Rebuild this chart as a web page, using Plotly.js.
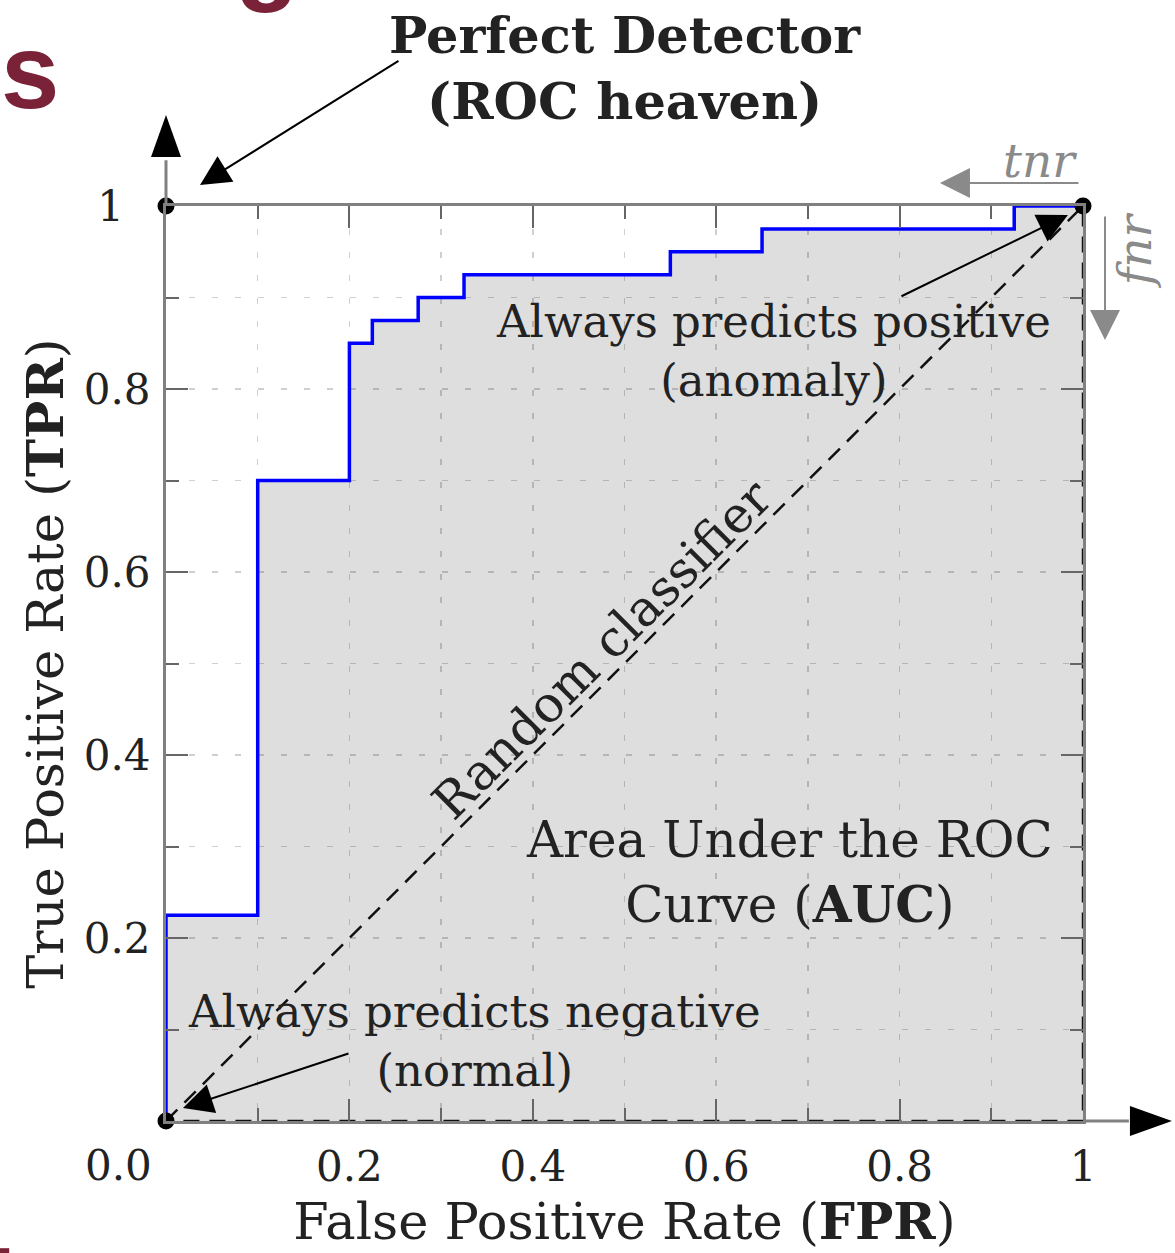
<!DOCTYPE html>
<html>
<head>
<meta charset="utf-8">
<script src="https://cdn.plot.ly/plotly-3.0.1.min.js"></script>
<style>html,body{margin:0;padding:0;background:#fff;}#chart{width:1175px;height:1253px;}</style>
</head>
<body>
<div id="chart"></div>
<script>
// ROC curve (step function)
const fpr = [0, 0, 0.1, 0.2, 0.225, 0.275, 0.325, 0.55, 0.65, 0.925, 1];
const tpr = [0, 0.225, 0.7, 0.85, 0.875, 0.9, 0.925, 0.95, 0.975, 1, 1];
// Random classifier triangle (diagonal, right edge, bottom edge)
const randomX = [0, 1, 1, 0];
const randomY = [0, 1, 0, 0];
// Special points: always negative, perfect detector, always positive
const pointsX = [0, 0, 1];
const pointsY = [0, 1, 1];
// Tick labels
const tickVals = [0.2, 0.4, 0.6, 0.8, 1];
const xTickText = ['0.2', '0.4', '0.6', '0.8', '1'];
const yTickText = ['0.2', '0.4', '0.6', '0.8', '1\u2007'];
const originLabel = '0.0';

const SERIF = 'DejaVu Serif';
const TXT = '#222222';
const GRAYTXT = '#8a8a8a';

const traces = [
  {
    x: fpr, y: tpr, type: 'scatter', mode: 'lines',
    line: {shape: 'hv', color: '#0000ff', width: 3.5},
    fill: 'tozeroy', fillcolor: 'rgba(0,0,0,0.13)',
    hoverinfo: 'skip', cliponaxis: false
  },
  {
    x: randomX, y: randomY, type: 'scatter', mode: 'lines',
    line: {color: '#111', width: 2.5, dash: '16px,10px'},
    hoverinfo: 'skip', cliponaxis: false
  },
  {
    x: pointsX, y: pointsY, type: 'scatter', mode: 'markers',
    marker: {color: '#000', size: 17},
    hoverinfo: 'skip', cliponaxis: false
  }
];

function ax(extra) {
  return Object.assign({
    range: [0, 1], autorange: false, fixedrange: true,
    showline: true, linecolor: '#808080', linewidth: 3, mirror: 'ticks',
    ticks: 'inside', ticklen: 22, tickwidth: 2, tickcolor: '#666',
    tickmode: 'array', tickvals: tickVals,
    showgrid: true, gridcolor: '#d0d0d0', gridwidth: 1.5, griddash: '6px,17px',
    zeroline: false,
    tickfont: {family: SERIF, size: 42, color: TXT},
    minor: {dtick: 0.1, tick0: 0, ticks: 'inside', ticklen: 13, tickwidth: 2, tickcolor: '#666',
            showgrid: true, gridcolor: '#d0d0d0', gridwidth: 1.5, griddash: '6px,17px'}
  }, extra);
}

// arrow-only annotation: head at paper (x, y), tail offset in pixels (axv, ayv)
const arrowA = (x, y, axv, ayv, color) => ({
  x: x, y: y, ax: axv, ay: ayv, xref: 'paper', yref: 'paper',
  text: '', showarrow: true, arrowhead: 2, arrowsize: 3, arrowwidth: 2,
  arrowcolor: color || '#000', standoff: 0, startstandoff: 0
});

const label = (x, y, text, size, color, extra) => Object.assign({
  x: x, y: y, xref: 'paper', yref: 'paper', xanchor: 'center', yanchor: 'middle',
  showarrow: false, text: text, font: {family: SERIF, size: size, color: color || TXT}
}, extra || {});

const annotations = [
  label(0.5005, 1.151, '<b>Perfect Detector</b><br><b>(ROC heaven)</b>', 51),
  arrowA(0.0371, 1.0230, 200, -125),
  label(0.953, 1.050, '<i>tnr</i>', 47, GRAYTXT),
  arrowA(0.8440, 1.0251, 140, 0, '#8a8a8a'),
  label(1.057, 0.952, '<i>fnr</i>', 47, GRAYTXT, {textangle: -90}),
  arrowA(1.0240, 0.8536, 0, -125, '#8a8a8a'),
  label(0.662, 0.842, 'Always predicts positive<br>(anomaly)', 45),
  arrowA(0.9836, 0.9902, -168, 82),
  label(0.475, 0.515, 'Random classifier', 50, TXT, {textangle: -45}),
  label(0.680, 0.272, 'Area Under the ROC<br>Curve (<b>AUC</b>)', 50),
  label(0.336, 0.087, 'Always predicts negative<br>(normal)', 45),
  arrowA(0.0185, 0.0142, 167, -55),
  {x: 0, y: 0, xref: 'paper', yref: 'paper', xanchor: 'center', yanchor: 'middle',
   showarrow: false, xshift: -48, yshift: -44,
   text: originLabel, font: {family: SERIF, size: 42, color: TXT}},
  // partial slide heading letters (cropped in the source image)
  {x: -0.1483, y: 1.147, xref: 'paper', yref: 'paper', xanchor: 'center', yanchor: 'middle',
   showarrow: false, text: '<b>s</b>', font: {family: 'Liberation Sans', size: 105, color: '#7a2238'}},
  {x: 0.11, y: 1.275, xref: 'paper', yref: 'paper', xanchor: 'center', yanchor: 'middle',
   showarrow: false, text: '<b>g</b>', font: {family: 'Liberation Sans', size: 105, color: '#7a2238'}}
];

const shapes = [
  // axis extensions
  {type: 'line', xref: 'paper', yref: 'paper', x0: 0, y0: 1, x1: 0, y1: 1.05,
   line: {color: '#808080', width: 3}},
  {type: 'line', xref: 'paper', yref: 'paper', x0: 1, y0: 0, x1: 1.05, y1: 0,
   line: {color: '#808080', width: 3}},
  // axis arrow heads
  {type: 'path', xref: 'paper', yref: 'paper', xsizemode: 'pixel', ysizemode: 'pixel',
   xanchor: 0, yanchor: 1.0995, path: 'M0,0L-15,-42L15,-42Z',
   fillcolor: '#000', line: {width: 0}},
  {type: 'path', xref: 'paper', yref: 'paper', xsizemode: 'pixel', ysizemode: 'pixel',
   xanchor: 1.097, yanchor: 0, path: 'M0,0L-42,15L-42,-15Z',
   fillcolor: '#000', line: {width: 0}},
  // small cropped slide mark bottom-left
  {type: 'rect', xref: 'paper', yref: 'paper', x0: -0.182, x1: -0.171, y0: -0.139, y1: -0.1455,
   fillcolor: '#7a2238', line: {width: 0}}
];

const layout = {
  width: 1175, height: 1253, autosize: false,
  margin: {l: 166, r: 92, t: 206, b: 132, pad: 0},
  paper_bgcolor: '#fff', plot_bgcolor: '#fff',
  showlegend: false,
  xaxis: ax({ticklabelstandoff: 7,
    tickvals: tickVals, ticktext: xTickText,
    title: {text: 'False Positive Rate (<b>FPR</b>)', font: {family: SERIF, size: 51, color: TXT}, standoff: 6}}),
  yaxis: ax({ticklabelstandoff: 4,
    tickvals: tickVals, ticktext: yTickText,
    title: {text: 'True Positive Rate (<b>TPR</b>)', font: {family: SERIF, size: 51, color: TXT}, standoff: 4}}),
  annotations: annotations,
  shapes: shapes
};

Plotly.newPlot('chart', traces, layout, {displayModeBar: false, staticPlot: true});
</script>
</body>
</html>
